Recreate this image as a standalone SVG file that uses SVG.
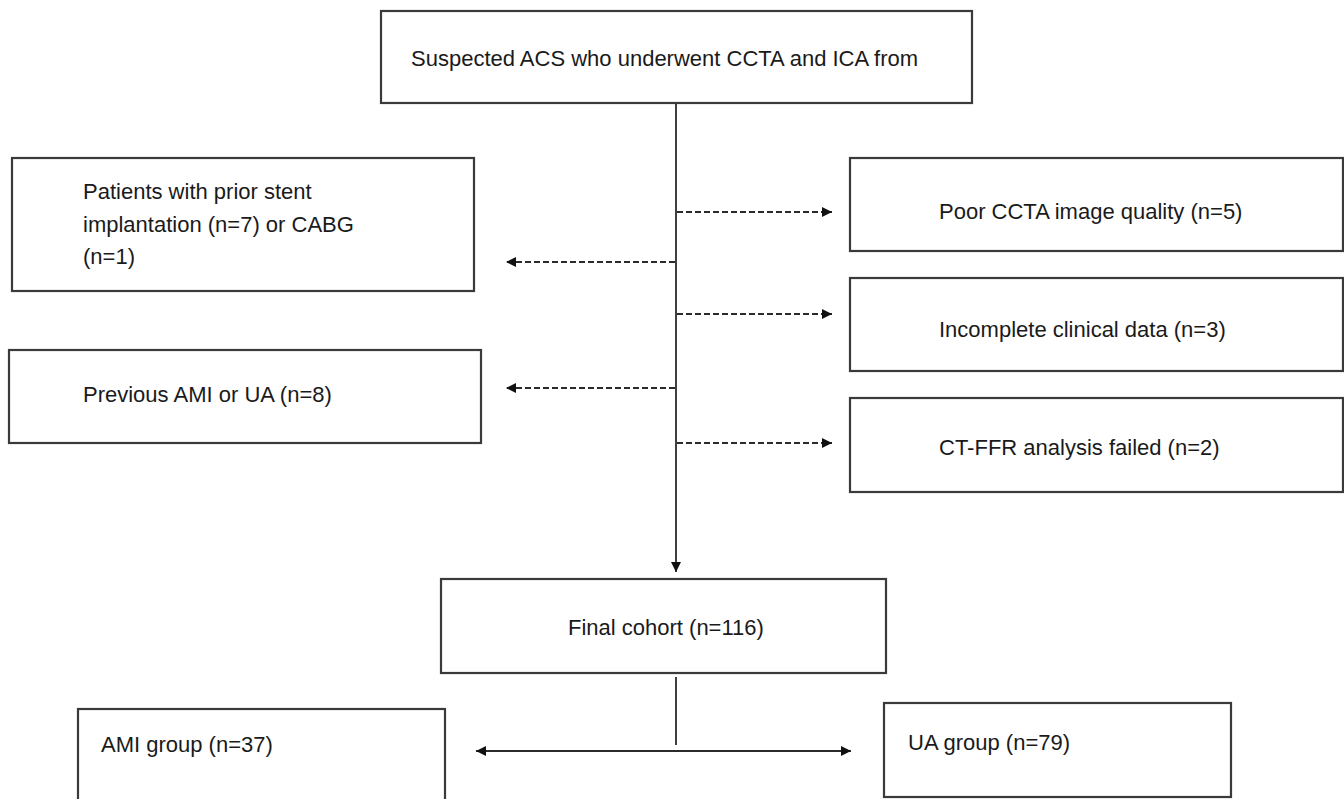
<svg xmlns="http://www.w3.org/2000/svg" width="1344" height="799" viewBox="0 0 1344 799">
<style>
.box{fill:#fff;stroke:#3a3a3a;stroke-width:2.2}
.t{font-family:"Liberation Sans",Arial,sans-serif;font-size:22px;fill:#1a1a1a}
.ln{stroke:#2b2b2b;stroke-width:1.8;fill:none}
.dash{stroke:#2b2b2b;stroke-width:2;fill:none;stroke-dasharray:6 3}
</style>
<defs>
<marker id="ah" viewBox="0 0 10 10" refX="10" refY="5" markerWidth="11" markerHeight="10" markerUnits="userSpaceOnUse" orient="auto-start-reverse">
<path d="M0,0 L10,5 L0,10 Z" fill="#111"/>
</marker>
</defs>
<rect width="1344" height="799" fill="#fff"/>
<g id="connectors">
<line class="ln" x1="676" y1="103" x2="676" y2="572" marker-end="url(#ah)"/>
<line class="dash" x1="677" y1="212" x2="832" y2="212" marker-end="url(#ah)"/>
<line class="dash" x1="677" y1="314" x2="832" y2="314" marker-end="url(#ah)"/>
<line class="dash" x1="677" y1="443" x2="832" y2="443" marker-end="url(#ah)"/>
<line class="dash" x1="675" y1="262" x2="506" y2="262" marker-end="url(#ah)"/>
<line class="dash" x1="675" y1="388" x2="506" y2="388" marker-end="url(#ah)"/>
<line class="ln" x1="676" y1="677" x2="676" y2="745"/>
<line class="ln" x1="476" y1="751" x2="851" y2="751" marker-start="url(#ah)" marker-end="url(#ah)"/>
</g>
<g id="n-top"><rect class="box" x="381" y="11" width="591" height="92"/><text class="t" x="411" y="66">Suspected ACS who underwent CCTA and ICA from</text></g>
<g id="n-stent"><rect class="box" x="12" y="158" width="462" height="133"/><text class="t" x="83" y="199">Patients with prior stent</text><text class="t" x="83" y="232">implantation (n=7) or CABG</text><text class="t" x="83" y="264">(n=1)</text></g>
<g id="n-prev"><rect class="box" x="9" y="350" width="472" height="93"/><text class="t" x="83" y="402">Previous AMI or UA (n=8)</text></g>
<g id="n-poor"><rect class="box" x="850" y="158" width="493" height="93"/><text class="t" x="939" y="219">Poor CCTA image quality (n=5)</text></g>
<g id="n-incomplete"><rect class="box" x="850" y="278" width="493" height="93"/><text class="t" x="939" y="337">Incomplete clinical data (n=3)</text></g>
<g id="n-ctffr"><rect class="box" x="850" y="398" width="493" height="94"/><text class="t" x="939" y="455">CT-FFR analysis failed (n=2)</text></g>
<g id="n-final"><rect class="box" x="441" y="579" width="445" height="94"/><text class="t" x="568" y="635">Final cohort (n=116)</text></g>
<g id="n-ami"><rect class="box" x="78" y="709" width="367" height="100"/><text class="t" x="101" y="752">AMI group (n=37)</text></g>
<g id="n-ua"><rect class="box" x="884" y="703" width="347" height="94"/><text class="t" x="908" y="750">UA group (n=79)</text></g>
</svg>
